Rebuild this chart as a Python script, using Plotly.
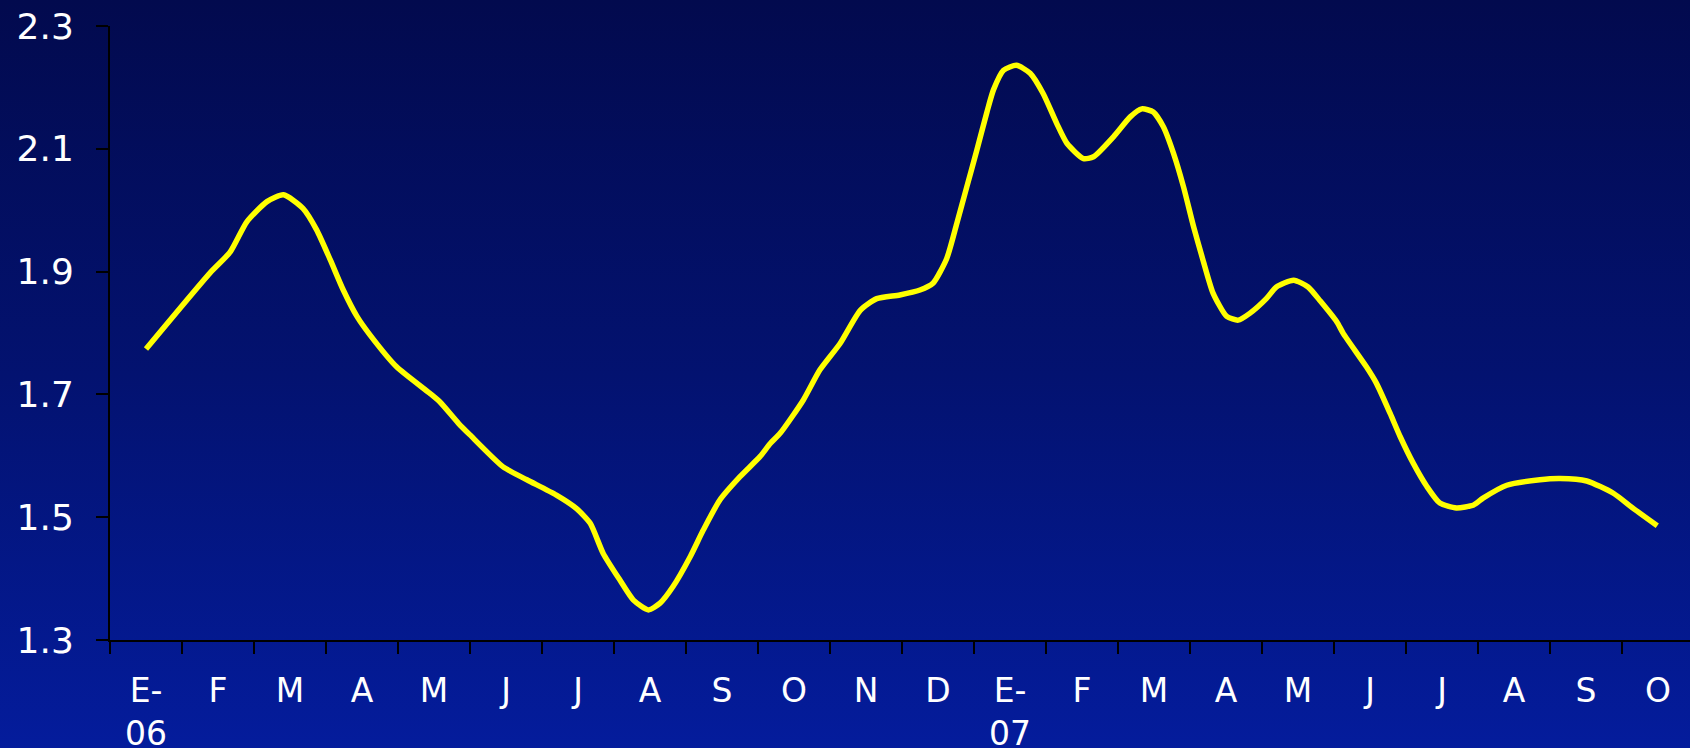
import base64
import plotly.graph_objects as go

# Time in months elapsed since 1 January 2006, and the matching price readings
months = [
    0.50, 1.39, 1.67, 1.90, 2.18, 2.41, 2.68, 2.87, 3.06, 3.24,
    3.43, 3.61, 3.98, 4.44, 4.58, 4.84, 5.00, 5.46, 5.79, 6.20,
    6.48, 6.67, 6.85, 7.08, 7.27, 7.48, 7.64, 7.82, 8.06, 8.24,
    8.47, 8.75, 9.03, 9.17, 9.31, 9.63, 9.86, 10.14, 10.42, 10.65,
    10.97, 11.25, 11.43, 11.62, 11.76, 11.90, 12.04, 12.18, 12.27, 12.41,
    12.59, 12.78, 12.96, 13.15, 13.29, 13.52, 13.66, 13.94, 14.17, 14.33,
    14.49, 14.63, 14.77, 14.91, 15.05, 15.18, 15.32, 15.51, 15.67, 15.83,
    16.06, 16.20, 16.44, 16.64, 16.81, 17.04, 17.13, 17.45, 17.59, 17.78,
    17.92, 18.10, 18.29, 18.47, 18.70, 18.94, 19.07, 19.40, 19.86, 20.14,
    20.51, 20.88, 21.16, 21.49,
]
price = [
    1.774, 1.898, 1.932, 1.981, 2.014, 2.025, 2.003, 1.968, 1.919, 1.870,
    1.827, 1.797, 1.745, 1.702, 1.688, 1.653, 1.634, 1.582, 1.561, 1.536,
    1.514, 1.490, 1.441, 1.398, 1.365, 1.349, 1.360, 1.387, 1.436, 1.479,
    1.528, 1.566, 1.599, 1.620, 1.637, 1.691, 1.740, 1.783, 1.837, 1.856,
    1.862, 1.870, 1.881, 1.921, 1.978, 2.038, 2.098, 2.160, 2.196, 2.228,
    2.236, 2.223, 2.190, 2.141, 2.109, 2.084, 2.087, 2.120, 2.152, 2.165,
    2.160, 2.136, 2.093, 2.038, 1.973, 1.919, 1.865, 1.827, 1.821, 1.832,
    1.856, 1.875, 1.886, 1.875, 1.852, 1.818, 1.799, 1.745, 1.718, 1.669,
    1.631, 1.588, 1.550, 1.523, 1.515, 1.520, 1.531, 1.552, 1.561, 1.563,
    1.559, 1.539, 1.514, 1.486,
]

month_labels = [
    "E-<br>06", "F", "M", "A", "M", "J", "J", "A", "S", "O", "N", "D",
    "E-<br>07", "F", "M", "A", "M", "J", "J", "A", "S", "O",
]
y_ticks = [1.3, 1.5, 1.7, 1.9, 2.1, 2.3]

W, H = 1690, 748
ML, MR, MT, MB = 110, 0, 26, 108
PW, PH = W - ML - MR, H - MT - MB
MONTH_PX = 72.0

# Vertical navy-to-blue backdrop for the whole page
svg = (
    '<svg xmlns="http://www.w3.org/2000/svg" width="100" height="100" '
    'preserveAspectRatio="none"><defs><linearGradient id="g" x1="0" y1="0" x2="0" y2="1">'
    '<stop offset="0" stop-color="#020A4E"/><stop offset="0.5" stop-color="#031270"/>'
    '<stop offset="1" stop-color="#041C9C"/></linearGradient></defs>'
    '<rect width="100" height="100" fill="url(#g)"/></svg>'
)
bg_src = "data:image/svg+xml;base64," + base64.b64encode(svg.encode()).decode()

fig = go.Figure()
fig.add_trace(go.Scatter(
    x=months, y=price, mode="lines",
    line=dict(color="#FFFF00", width=5.5, shape="spline", smoothing=0.6),
    hoverinfo="skip", showlegend=False,
))

yfont = dict(family="DejaVu Sans, Verdana, sans-serif", size=36, color="white")
xfont = dict(family="DejaVu Sans, Verdana, sans-serif", size=33, color="white")

fig.update_layout(
    width=W, height=H,
    margin=dict(l=ML, r=MR, t=MT, b=MB, pad=0, autoexpand=False),
    paper_bgcolor="#031270",
    plot_bgcolor="rgba(0,0,0,0)",
    font=yfont,
    showlegend=False,
    images=[dict(
        source=bg_src, xref="paper", yref="paper",
        x=-ML / PW, y=1 + MT / PH, sizex=W / PW, sizey=H / PH,
        xanchor="left", yanchor="top", sizing="stretch", layer="below",
    )],
    xaxis=dict(
        range=[0, PW / MONTH_PX],
        tickmode="array",
        tickvals=[i + 0.5 for i in range(len(month_labels))],
        ticktext=month_labels,
        ticks="outside", ticklen=12, tickcolor="rgba(0,0,0,0)",
        ticklabelstandoff=8,
        minor=dict(tickmode="linear", tick0=0, dtick=1, ticks="outside",
                   ticklen=12, tickwidth=2, tickcolor="black", showgrid=False),
        showline=True, linecolor="black", linewidth=2,
        showgrid=False, zeroline=False, fixedrange=True, automargin=False,
        tickfont=xfont,
    ),
    yaxis=dict(
        range=[1.3, 2.3],
        tickmode="array", tickvals=y_ticks,
        ticktext=[f"{v:.1f}" for v in y_ticks],
        ticks="outside", ticklen=12, tickwidth=2, tickcolor="black",
        ticklabelstandoff=15,
        showline=True, linecolor="black", linewidth=2,
        showgrid=False, zeroline=False, fixedrange=True, automargin=False,
        tickfont=yfont,
    ),
)

fig.write_html("out.html", config={"displayModeBar": False})
